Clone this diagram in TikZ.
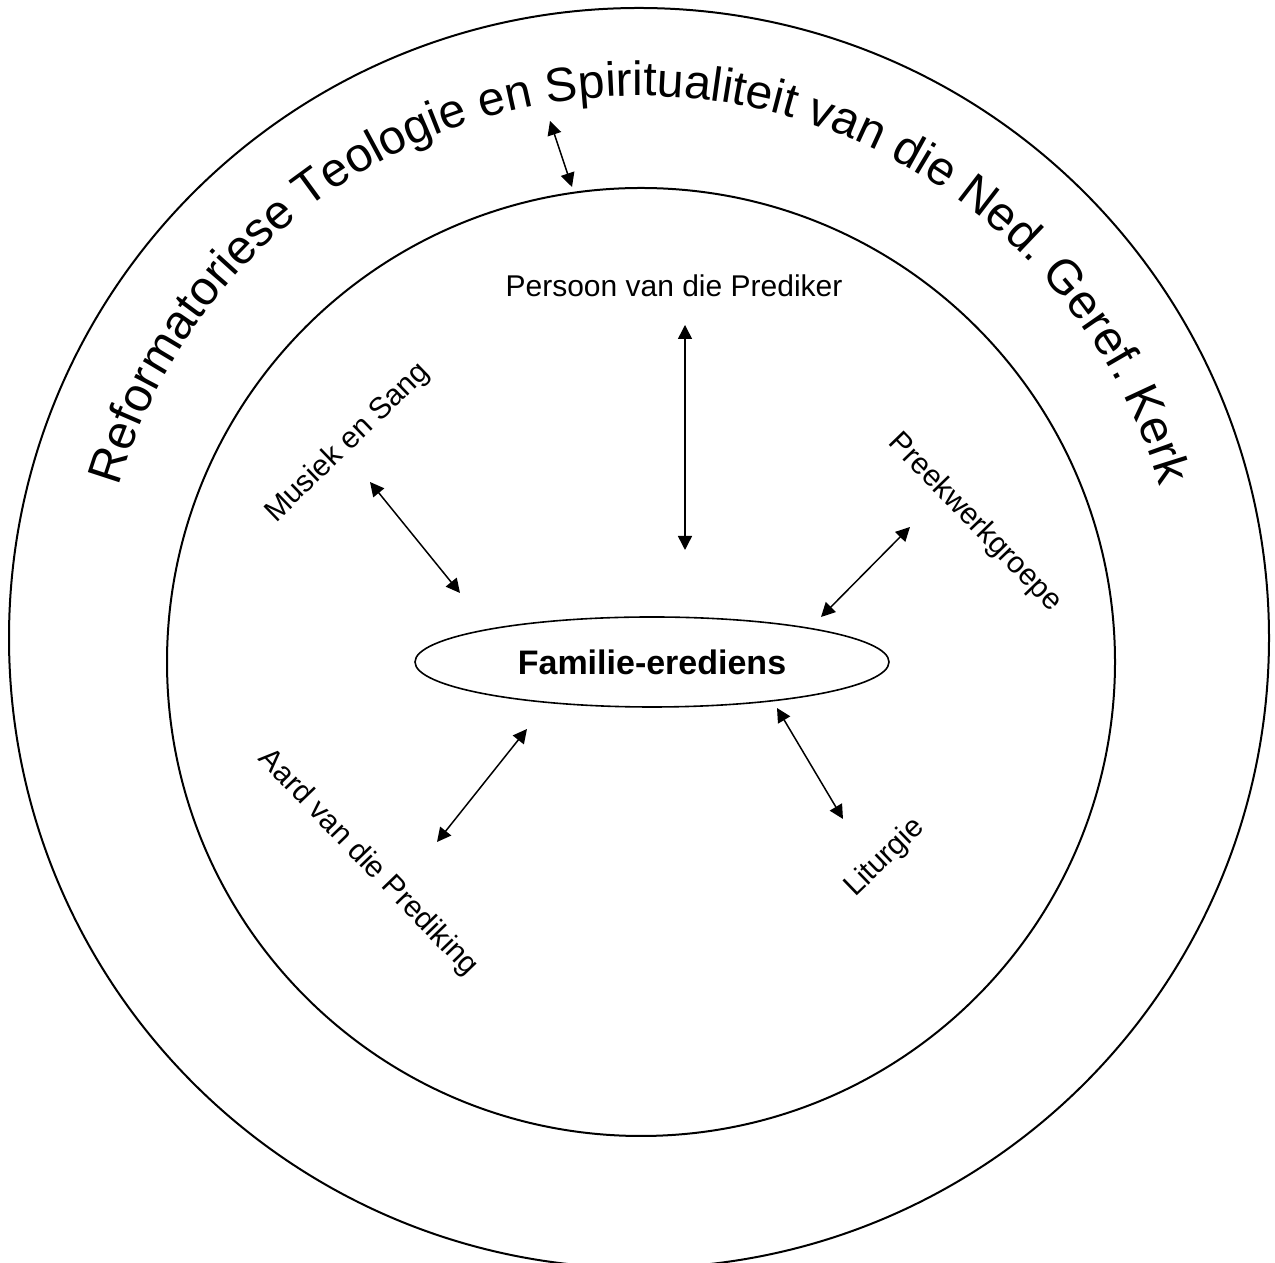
\documentclass[tikz,border=0pt]{standalone}
\usepackage{fontspec}
\setmainfont{Liberation Sans}
\usetikzlibrary{shapes.geometric,arrows.meta,decorations.text}
\newcommand\myouterfont{\fontsize{24pt}{29pt}\selectfont}
\begin{document}
\begin{tikzpicture}[x=0.5pt,y=0.5pt,
  ring/.style={draw, line width=1pt},
  link/.style={line width=0.75pt, {Triangle[length=7pt,width=7pt]}-{Triangle[length=7pt,width=7pt]}},
  lbl/.style={font=\fontsize{15pt}{18pt}\selectfont, inner sep=0pt}]
\useasboundingbox (0,0) rectangle (1275,1263);
\clip (0,0) rectangle (1275,1263);
% rings
\draw[ring] (639,625) circle[radius=630];
\draw[ring] (641,601) circle[radius=474];
% curved title
\path[decorate, decoration={text along path, text align=center,
  text={|\myouterfont|Reformatoriese Teologie en Spiritualiteit van die Ned. Geref. Kerk}}]
  (639,625) ++(180:542) arc[start angle=180, end angle=0, radius=542];
% centre
\node[draw, line width=0.8pt, ellipse, minimum width=237pt, minimum height=45pt, inner sep=0pt,
  font=\bfseries\fontsize{17pt}{20pt}\selectfont] (fam) at (652,601) {Familie-erediens};
% labels
\node[lbl, anchor=base] (pers) at (674,966) {Persoon van die Prediker};
\node[lbl, rotate=44] (mus) at (348,820) {Musiek en Sang};
\node[lbl, rotate=-46] (preek) at (975,740) {Preekwerkgroepe};
\node[lbl, rotate=-46] (aard) at (368,400) {Aard van die Prediking};
\node[lbl, rotate=44] (lit) at (885,405) {Liturgie};
% arrow ends
\coordinate (t1) at (550,1142); \coordinate (t2) at (572,1076);
\coordinate (p1) at (685,938);  \coordinate (p2) at (685,713);
\coordinate (m1) at (370,781);  \coordinate (m2) at (460,670);
\coordinate (k1) at (910,736);  \coordinate (k2) at (821,646);
\coordinate (a1) at (527,534);  \coordinate (a2) at (437,421);
\coordinate (l1) at (777,555);  \coordinate (l2) at (843,444);
\draw[link] (t1) -- (t2);
\draw[link] (p1) -- (p2);
\draw[link] (m1) -- (m2);
\draw[link] (k1) -- (k2);
\draw[link] (a1) -- (a2);
\draw[link] (l1) -- (l2);
\end{tikzpicture}
\end{document}
